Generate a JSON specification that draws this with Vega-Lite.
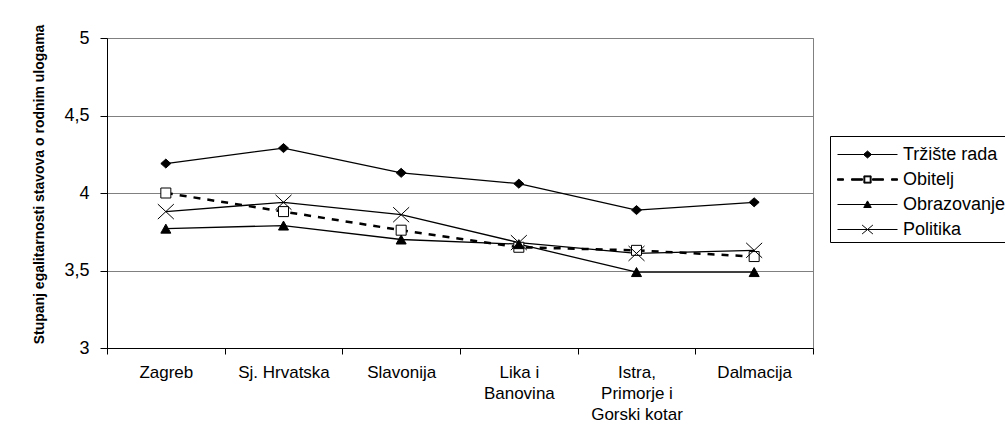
{
  "$schema": "https://vega.github.io/schema/vega-lite/v6.json",
  "width": 706,
  "height": 310,
  "autosize": {"type": "none"},
  "padding": {"left": 107, "top": 38, "right": 192, "bottom": 92},
  "background": "white",
  "config": {
    "font": "Liberation Sans",
    "view": {"stroke": "#808080", "strokeWidth": 1}
  },
  "data": {
    "values": [
      {"regija": "Zagreb", "serija": "Tržište rada", "v": 4.19},
      {"regija": "Sj. Hrvatska", "serija": "Tržište rada", "v": 4.29},
      {"regija": "Slavonija", "serija": "Tržište rada", "v": 4.13},
      {"regija": "Lika i Banovina", "serija": "Tržište rada", "v": 4.06},
      {"regija": "Istra, Primorje i Gorski kotar", "serija": "Tržište rada", "v": 3.89},
      {"regija": "Dalmacija", "serija": "Tržište rada", "v": 3.94},
      {"regija": "Zagreb", "serija": "Obitelj", "v": 4.0},
      {"regija": "Sj. Hrvatska", "serija": "Obitelj", "v": 3.88},
      {"regija": "Slavonija", "serija": "Obitelj", "v": 3.76},
      {"regija": "Lika i Banovina", "serija": "Obitelj", "v": 3.65},
      {"regija": "Istra, Primorje i Gorski kotar", "serija": "Obitelj", "v": 3.63},
      {"regija": "Dalmacija", "serija": "Obitelj", "v": 3.59},
      {"regija": "Zagreb", "serija": "Obrazovanje", "v": 3.77},
      {"regija": "Sj. Hrvatska", "serija": "Obrazovanje", "v": 3.79},
      {"regija": "Slavonija", "serija": "Obrazovanje", "v": 3.7},
      {"regija": "Lika i Banovina", "serija": "Obrazovanje", "v": 3.67},
      {"regija": "Istra, Primorje i Gorski kotar", "serija": "Obrazovanje", "v": 3.49},
      {"regija": "Dalmacija", "serija": "Obrazovanje", "v": 3.49},
      {"regija": "Zagreb", "serija": "Politika", "v": 3.88},
      {"regija": "Sj. Hrvatska", "serija": "Politika", "v": 3.94},
      {"regija": "Slavonija", "serija": "Politika", "v": 3.86},
      {"regija": "Lika i Banovina", "serija": "Politika", "v": 3.68},
      {"regija": "Istra, Primorje i Gorski kotar", "serija": "Politika", "v": 3.61},
      {"regija": "Dalmacija", "serija": "Politika", "v": 3.63}
    ]
  },
  "encoding": {
    "x": {
      "field": "regija",
      "type": "nominal",
      "sort": null,
      "scale": {"type": "band", "paddingInner": 0, "paddingOuter": 0},
      "axis": {
        "title": null,
        "labelAngle": 0,
        "labelFontSize": 17,
        "labelColor": "black",
        "labelLineHeight": 21,
        "labelPadding": 10,
        "labelBaseline": "top",
        "tickBand": "extent",
        "tickSize": 6,
        "tickColor": "black",
        "domainColor": "black",
        "labelExpr": "datum.value == 'Lika i Banovina' ? ['Lika i', 'Banovina'] : datum.value == 'Istra, Primorje i Gorski kotar' ? ['Istra,', 'Primorje i', 'Gorski kotar'] : datum.value"
      }
    },
    "y": {
      "field": "v",
      "type": "quantitative",
      "scale": {"domain": [3, 5], "nice": false, "zero": false},
      "axis": {
        "title": "Stupanj egalitarnosti stavova o rodnim ulogama",
        "titleFontSize": 14,
        "titleFontWeight": "bold",
        "titleColor": "black",
        "titleAngle": 270,
        "titleBaseline": "middle",
        "titleAlign": "center",
        "titleX": -68,
        "titleY": 146,
        "values": [3, 3.5, 4, 4.5, 5],
        "labelExpr": "replace(toString(datum.value), '.', ',')",
        "labelFontSize": 18,
        "labelColor": "black",
        "labelPadding": 11,
        "tickSize": 7,
        "tickColor": "black",
        "domainColor": "black",
        "grid": true,
        "gridColor": "#808080",
        "gridWidth": 1
      }
    }
  },
  "layer": [
    {
      "transform": [{"filter": "datum.serija != 'Obitelj'"}],
      "mark": {"type": "line", "stroke": "black", "strokeWidth": 1.3},
      "encoding": {"detail": {"field": "serija"}}
    },
    {
      "transform": [{"filter": "datum.serija == 'Obitelj'"}],
      "mark": {"type": "line", "stroke": "black", "strokeWidth": 2.5, "strokeDash": [7, 7]},
      "encoding": {}
    },
    {
      "mark": {"type": "point", "filled": true, "stroke": "black", "strokeWidth": 1, "size": 100, "opacity": 1},
      "encoding": {
        "fill": {"condition": {"test": "datum.serija == 'Obitelj'", "value": "white"}, "value": "black"},
        "shape": {
          "condition": [
            {"test": "datum.serija == 'Tržište rada'", "value": "M0,-0.9L1,0L0,0.9L-1,0Z"},
            {"test": "datum.serija == 'Obitelj'", "value": "M-1,-1L1,-1L1,1L-1,1Z"},
            {"test": "datum.serija == 'Obrazovanje'", "value": "M0,-0.9L1,0.9L-1,0.9Z"}
          ],
          "value": "M-1.6,-1.5L1.6,1.5M-1.6,1.5L1.6,-1.5"
        }
      }
    },
    {
      "mark": {"type": "point", "filled": true, "fill": "black", "stroke": "black", "strokeWidth": 1, "size": 0, "opacity": 1},
      "encoding": {
        "shape": {
          "field": "serija",
          "type": "nominal",
          "scale": {
            "domain": ["Tržište rada", "Obitelj", "Obrazovanje", "Politika"],
            "range": [
              "M-2,0L2,0M0,-0.233L0.267,0L0,0.233L-0.267,0Z",
              "M-2,-0.05L-1.6,-0.05L-1.6,0.05L-2,0.05ZM-1.067,-0.05L-0.333,-0.05L-0.333,0.05L-1.067,0.05ZM0.333,-0.05L1.067,-0.05L1.067,0.05L0.333,0.05ZM1.6,-0.05L2,-0.05L2,0.05L1.6,0.05ZM-0.24,-0.24L0.24,-0.24L0.24,0.24L-0.24,0.24ZM-0.18,-0.18L-0.18,0.18L0.18,0.18L0.18,-0.18Z",
              "M-2,0L2,0M0,-0.24L0.25,0.2L-0.25,0.2Z",
              "M-2,0L2,0M-0.36,-0.3L0.36,0.3M-0.36,0.3L0.36,-0.3"
            ]
          },
          "legend": {
            "title": null,
            "orient": "none",
            "legendX": 723,
            "legendY": 98,
            "direction": "vertical",
            "strokeColor": "black",
            "fillColor": "white",
            "padding": 3,
            "symbolSize": 900,
            "symbolOffset": 19,
            "symbolStrokeWidth": 1,
            "labelFontSize": 18,
            "labelColor": "black",
            "labelOffset": 20,
            "rowPadding": 0
          }
        }
      }
    }
  ]
}
